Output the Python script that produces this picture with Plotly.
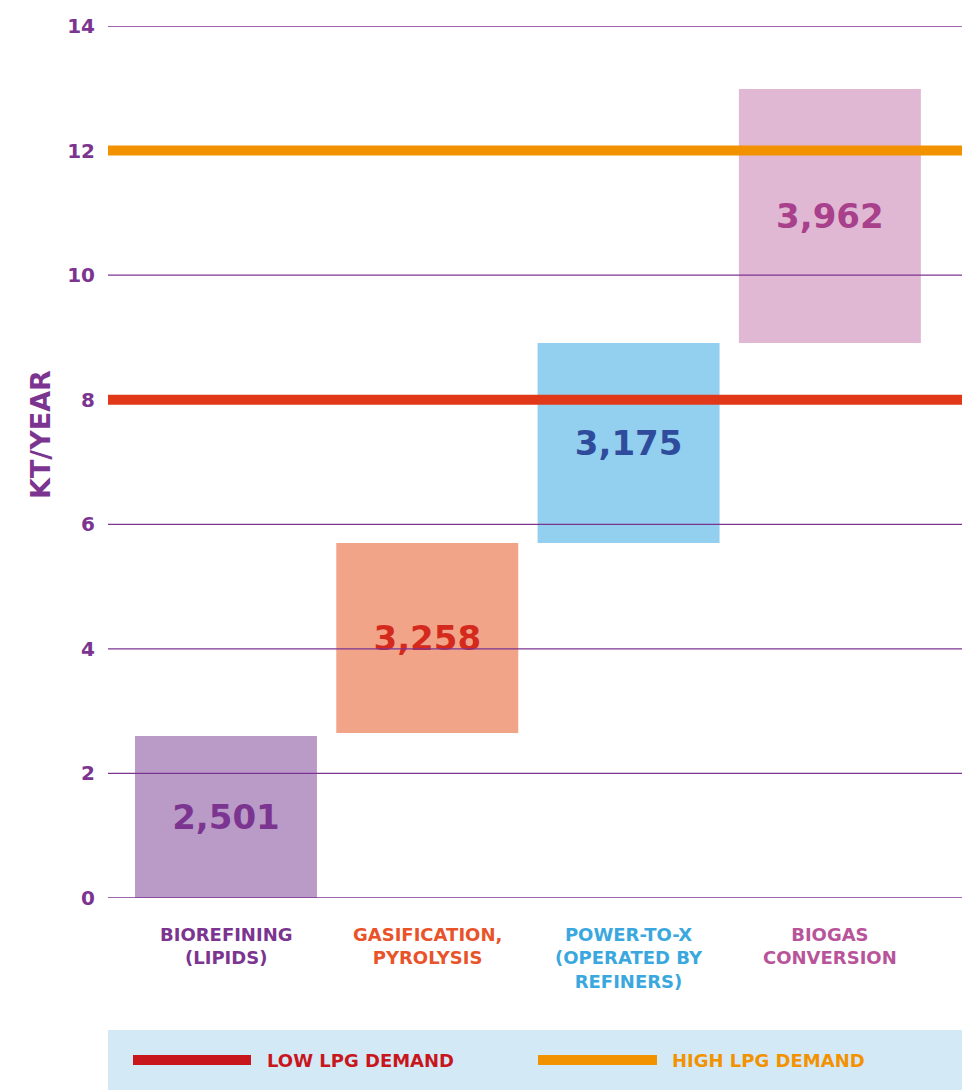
import plotly.graph_objects as go

# ---- data ----
categories = ["BIOREFINING<br>(LIPIDS)", "GASIFICATION,<br>PYROLYSIS",
              "POWER-TO-X<br>(OPERATED BY<br>REFINERS)", "BIOGAS<br>CONVERSION"]
bar_bottom = [0.0, 2.65, 5.70, 8.91]
bar_top = [2.60, 5.70, 8.91, 12.99]
bar_labels = ["2,501", "3,258", "3,175", "3,962"]
low_lpg_demand = 8.0
high_lpg_demand = 12.0
y_ticks = [0, 2, 4, 6, 8, 10, 12, 14]
legend_labels = ["LOW LPG DEMAND", "HIGH LPG DEMAND"]

# ---- styles ----
FONT = "DejaVu Sans"
PURPLE = "#7B3590"
bar_colors = ["#BA9AC7", "#F2A488", "#93CFEE", "#E1B8D4"]
label_colors = ["#7B3590", "#D42A1E", "#2F4C9C", "#A8408C"]
cat_colors = ["#7B3590", "#E8532A", "#3AA8DE", "#B8559A"]
LOW_COLOR = "#E2381A"
HIGH_COLOR = "#F39200"
LOW_LEG_COLOR = "#C8161D"

OFF = 8  # page body margin
W, H = 970 - OFF, 1090 - OFF
PLOT_L, PLOT_R, PLOT_T, PLOT_B = 108, 970, 26, 898  # page pixels
ML = PLOT_L - OFF
MR = 0
MT = PLOT_T - OFF
MB = (1090 - OFF) - (PLOT_B - OFF)
plot_w = PLOT_R - PLOT_L
plot_h = PLOT_B - PLOT_T

xpos = list(range(len(categories)))
heights = [t - b for t, b in zip(bar_top, bar_bottom)]

fig = go.Figure()
fig.add_trace(go.Bar(
    x=xpos, y=heights, base=bar_bottom, width=0.904,
    marker=dict(color=bar_colors, line=dict(width=0)),
    text=bar_labels, textposition="inside", insidetextanchor="middle",
    textangle=0, constraintext="none",
    textfont=dict(family=FONT, size=34, color=label_colors, weight="bold"),
    showlegend=False, hoverinfo="skip",
))

shapes = []
for t in y_ticks:
    if t in (low_lpg_demand, high_lpg_demand):
        continue
    shapes.append(dict(type="line", xref="paper", yref="y", x0=0, x1=1, y0=t, y1=t,
                       line=dict(color=PURPLE, width=1.3), layer="above"))
shapes.append(dict(type="line", xref="paper", yref="y", x0=0, x1=1,
                   y0=low_lpg_demand, y1=low_lpg_demand,
                   line=dict(color=LOW_COLOR, width=10), layer="above"))
shapes.append(dict(type="line", xref="paper", yref="y", x0=0, x1=1,
                   y0=high_lpg_demand, y1=high_lpg_demand,
                   line=dict(color=HIGH_COLOR, width=10), layer="above"))


def px_x(px):
    return (px - PLOT_L) / plot_w


def px_y(py):
    return (PLOT_B - py) / plot_h


shapes.append(dict(type="rect", xref="paper", yref="paper",
                   x0=px_x(108), x1=px_x(970), y0=px_y(1090), y1=px_y(1030),
                   fillcolor="#D3E9F6", line=dict(width=0), layer="below"))
shapes.append(dict(type="line", xref="paper", yref="paper",
                   x0=px_x(133), x1=px_x(251), y0=px_y(1060), y1=px_y(1060),
                   line=dict(color=LOW_LEG_COLOR, width=10)))
shapes.append(dict(type="line", xref="paper", yref="paper",
                   x0=px_x(538), x1=px_x(657), y0=px_y(1060), y1=px_y(1060),
                   line=dict(color=HIGH_COLOR, width=10)))

annotations = []
for i, c in enumerate(categories):
    annotations.append(dict(x=xpos[i], y=0, xref="x", yref="paper",
                            text=c, showarrow=False, xanchor="center", yanchor="top",
                            yshift=-24, align="center",
                            font=dict(family=FONT, size=18, color=cat_colors[i], weight="bold")))
annotations.append(dict(x=px_x(265), y=px_y(1060), xref="paper", yref="paper",
                        text=legend_labels[0], showarrow=False, xanchor="left", yanchor="middle",
                        font=dict(family=FONT, size=18, color=LOW_LEG_COLOR, weight="bold")))
annotations.append(dict(x=px_x(670), y=px_y(1060), xref="paper", yref="paper",
                        text=legend_labels[1], showarrow=False, xanchor="left", yanchor="middle",
                        font=dict(family=FONT, size=18, color=HIGH_COLOR, weight="bold")))
annotations.append(dict(x=px_x(40), y=px_y(435), xref="paper", yref="paper",
                        text="KT/YEAR", showarrow=False, textangle=-90,
                        xanchor="center", yanchor="middle",
                        font=dict(family=FONT, size=27, color=PURPLE, weight="bold")))

fig.update_layout(
    width=W, height=H,
    margin=dict(l=ML, r=MR, t=MT, b=MB, pad=0),
    paper_bgcolor="white", plot_bgcolor="white",
    showlegend=False,
    shapes=shapes, annotations=annotations,
    xaxis=dict(range=[-0.586, 3.696], showgrid=False, zeroline=False,
               showticklabels=False, showline=False, fixedrange=True),
    yaxis=dict(range=[0, 14], tickvals=y_ticks, showgrid=False, zeroline=False,
               showline=False, ticks="", ticklabelstandoff=12,
               tickfont=dict(family=FONT, size=20, color=PURPLE, weight="bold")),
)

fig.write_html("out.html")
